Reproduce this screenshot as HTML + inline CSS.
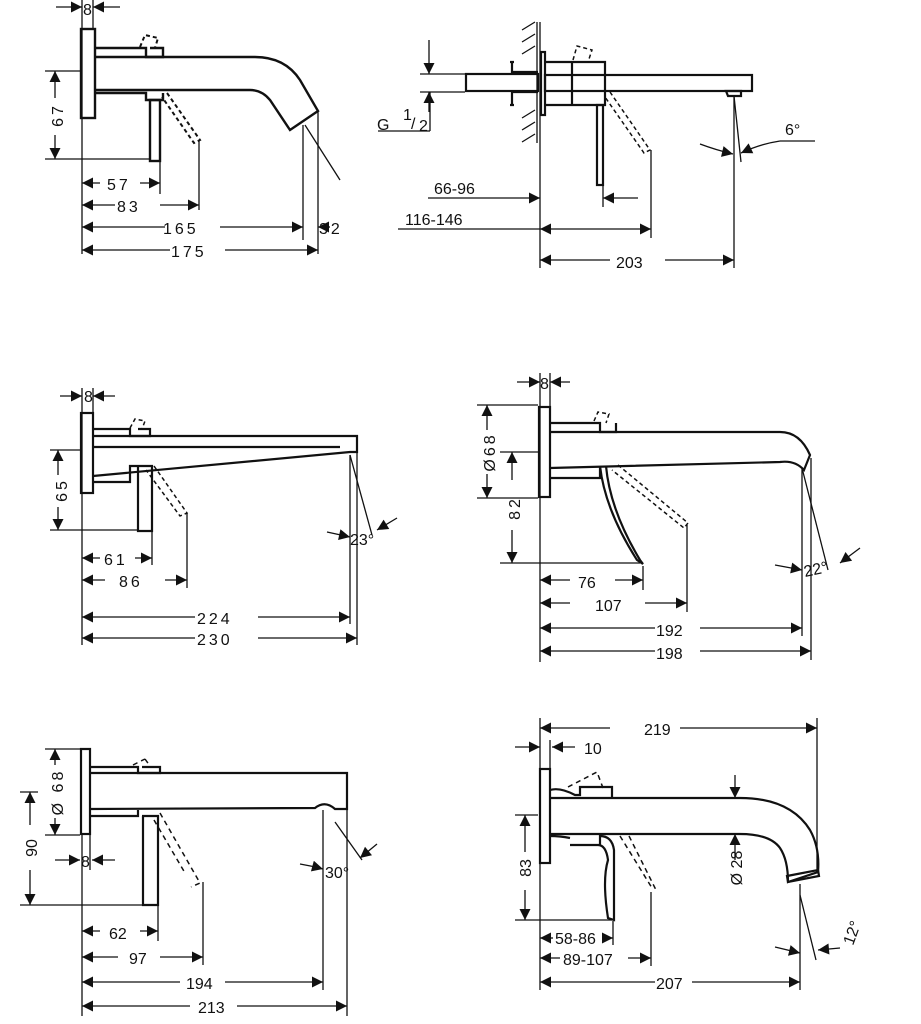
<!DOCTYPE html>
<html><head><meta charset="utf-8"><style>
html,body{margin:0;padding:0;background:#fff;width:921px;height:1024px;overflow:hidden}
svg{display:block}
text{font-family:"Liberation Sans",sans-serif;fill:#111;font-size:16px}
.t{letter-spacing:3px}
</style></head><body>
<svg width="921" height="1024" viewBox="0 0 921 1024" xmlns="http://www.w3.org/2000/svg">
<defs>
<marker id="a" viewBox="0 0 10 10" refX="10" refY="5" markerWidth="13" markerHeight="11" markerUnits="userSpaceOnUse" orient="auto-start-reverse"><path d="M0,0L10,5L0,10z" fill="#111"/></marker>
</defs>
<g stroke="#111" fill="none" stroke-width="1.3">
<!-- ============ Drawing 1 ============ -->
<g stroke-width="2.4">
<rect x="81" y="29" width="14" height="89"/>
<path d="M95,48H146V57H163V48H150"/>
<path d="M95,57H255Q285,57 300,80L318,111L290,130L270,100Q262,90 250,90H95"/>
<path d="M95,93H146V100H163V93"/>
<rect x="150" y="100" width="10" height="61"/>
</g>
<path d="M140,47L145,35L158,38L155,48M167,93L200,140L194,143L162,97" stroke-dasharray="4,3" stroke-width="2"/>
<line x1="82" y1="0" x2="82" y2="254"/><line x1="93" y1="0" x2="93" y2="28"/>
<line x1="56" y1="7" x2="82" y2="7" marker-end="url(#a)"/><line x1="120" y1="7" x2="93" y2="7" marker-end="url(#a)"/>
<line x1="45" y1="71" x2="80" y2="71"/><line x1="45" y1="159" x2="150" y2="159"/>
<line x1="55" y1="98" x2="55" y2="71" marker-end="url(#a)"/><line x1="55" y1="135" x2="55" y2="159" marker-end="url(#a)"/>
<line x1="160" y1="162" x2="160" y2="194"/><line x1="199" y1="140" x2="199" y2="210"/>
<line x1="303" y1="125" x2="303" y2="240"/><line x1="318" y1="112" x2="318" y2="254"/>
<line x1="305" y1="125" x2="340" y2="180"/>
<line x1="100" y1="183" x2="82" y2="183" marker-end="url(#a)"/><line x1="140" y1="183" x2="160" y2="183" marker-end="url(#a)"/>
<line x1="115" y1="205" x2="82" y2="205" marker-end="url(#a)"/><line x1="160" y1="205" x2="199" y2="205" marker-end="url(#a)"/>
<line x1="165" y1="227" x2="82" y2="227" marker-end="url(#a)"/><line x1="220" y1="227" x2="303" y2="227" marker-end="url(#a)"/>
<line x1="170" y1="250" x2="82" y2="250" marker-end="url(#a)"/><line x1="225" y1="250" x2="318" y2="250" marker-end="url(#a)"/>
<line x1="330" y1="227" x2="318" y2="227" marker-end="url(#a)"/>

<!-- ============ Drawing 2 ============ -->
<line x1="540" y1="22" x2="540" y2="268"/>
<line x1="537" y1="22" x2="537" y2="143"/>
<path d="M522,30l13,-8M522,42l13,-8M522,54l13,-8M522,118l13,-8M522,130l13,-8M522,142l13,-8"/>
<g stroke-width="2.2">
<rect x="466" y="74" width="72" height="17"/>
<path d="M512,62V72H538M512,105V92H538M510,62H514M510,105H514"/>
<rect x="541" y="52" width="4" height="63"/>
<path d="M545,62H572V105H545M572,62H605V105H572"/>
<rect x="545" y="75" width="207" height="16"/>
<rect x="597" y="105" width="6" height="80"/>
<path d="M726,91H741V96H728z"/>
</g>
<path d="M573,60L577,46L592,50L588,62M610,92L650,150L644,153L605,97" stroke-dasharray="4,3" stroke-width="1.5"/>
<line x1="420" y1="74" x2="465" y2="74"/><line x1="420" y1="92" x2="465" y2="92"/>
<line x1="429" y1="40" x2="429" y2="74" marker-end="url(#a)"/><line x1="429" y1="112" x2="429" y2="92" marker-end="url(#a)"/>
<line x1="378" y1="131" x2="430" y2="131"/><line x1="430" y1="92" x2="430" y2="131"/>
<line x1="603" y1="185" x2="603" y2="207"/><line x1="651" y1="150" x2="651" y2="238"/>
<line x1="734" y1="96" x2="734" y2="268"/><line x1="734" y1="96" x2="741" y2="162"/>
<line x1="428" y1="198" x2="540" y2="198" marker-end="url(#a)"/>
<line x1="638" y1="198" x2="603" y2="198" marker-end="url(#a)"/>
<line x1="398" y1="229" x2="540" y2="229"/>
<line x1="560" y1="229" x2="540" y2="229" marker-end="url(#a)"/><line x1="560" y1="229" x2="651" y2="229" marker-end="url(#a)"/>
<line x1="610" y1="260" x2="540" y2="260" marker-end="url(#a)"/><line x1="665" y1="260" x2="734" y2="260" marker-end="url(#a)"/>
<path d="M700,144Q716,150 733,154" marker-end="url(#a)"/>
<path d="M780,141Q760,144 741,153" marker-end="url(#a)"/>
<line x1="780" y1="141" x2="815" y2="141"/>

<!-- ============ Drawing 3 ============ -->
<g stroke-width="2.2">
<rect x="81" y="413" width="12" height="80"/>
<path d="M93,429H130V436H150V429H138"/>
<path d="M93,436H357V452H350L93,476"/>
<path d="M93,447H340"/>
<path d="M93,482H130V466H152V531H138V466"/>
</g>
<path d="M130,428L135,419L145,421L142,429M154,466L187,513L180,516L146,470" stroke-dasharray="4,3" stroke-width="1.5"/>
<line x1="82" y1="388" x2="82" y2="645"/><line x1="93" y1="388" x2="93" y2="412"/>
<line x1="60" y1="396" x2="82" y2="396" marker-end="url(#a)"/><line x1="115" y1="396" x2="93" y2="396" marker-end="url(#a)"/>
<line x1="50" y1="450" x2="80" y2="450"/><line x1="50" y1="530" x2="138" y2="530"/>
<line x1="58" y1="475" x2="58" y2="450" marker-end="url(#a)"/><line x1="58" y1="507" x2="58" y2="530" marker-end="url(#a)"/>
<line x1="152" y1="532" x2="152" y2="565"/><line x1="187" y1="513" x2="187" y2="588"/>
<line x1="350" y1="455" x2="350" y2="624"/><line x1="357" y1="452" x2="357" y2="645"/>
<line x1="350" y1="455" x2="372" y2="535"/>
<line x1="100" y1="558" x2="82" y2="558" marker-end="url(#a)"/><line x1="135" y1="558" x2="152" y2="558" marker-end="url(#a)"/>
<line x1="105" y1="580" x2="82" y2="580" marker-end="url(#a)"/><line x1="165" y1="580" x2="187" y2="580" marker-end="url(#a)"/>
<line x1="195" y1="617" x2="82" y2="617" marker-end="url(#a)"/><line x1="258" y1="617" x2="350" y2="617" marker-end="url(#a)"/>
<line x1="195" y1="638" x2="82" y2="638" marker-end="url(#a)"/><line x1="258" y1="638" x2="357" y2="638" marker-end="url(#a)"/>
<line x1="327" y1="532" x2="350" y2="537" marker-end="url(#a)"/><line x1="397" y1="518" x2="377" y2="530" marker-end="url(#a)"/>

<!-- ============ Drawing 4 ============ -->
<g stroke-width="2.2">
<rect x="539" y="407" width="11" height="90"/>
<path d="M550,423H600V432H616V423"/>
<path d="M550,432H780Q800,432 810,455L804,470Q795,460 780,462L550,468"/>
<path d="M550,478H600V466M606,466Q610,510 640,560L643,564L637,560Q605,510 600,466"/>
</g>
<path d="M594,421L598,412L609,414L606,423M618,465L688,523L684,528L612,470" stroke-dasharray="4,3" stroke-width="1.5"/>
<line x1="540" y1="373" x2="540" y2="662"/><line x1="550" y1="373" x2="550" y2="406"/>
<line x1="517" y1="382" x2="540" y2="382" marker-end="url(#a)"/><line x1="570" y1="382" x2="550" y2="382" marker-end="url(#a)"/>
<line x1="477" y1="405" x2="538" y2="405"/><line x1="477" y1="498" x2="538" y2="498"/>
<line x1="487" y1="430" x2="487" y2="405" marker-end="url(#a)"/><line x1="487" y1="474" x2="487" y2="498" marker-end="url(#a)"/>
<line x1="500" y1="452" x2="538" y2="452"/><line x1="500" y1="563" x2="640" y2="563"/>
<line x1="512" y1="480" x2="512" y2="452" marker-end="url(#a)"/><line x1="512" y1="530" x2="512" y2="563" marker-end="url(#a)"/>
<line x1="643" y1="566" x2="643" y2="590"/><line x1="687" y1="525" x2="687" y2="612"/>
<line x1="802" y1="468" x2="802" y2="636"/><line x1="811" y1="458" x2="811" y2="660"/>
<line x1="802" y1="468" x2="828" y2="570"/>
<line x1="570" y1="580" x2="540" y2="580" marker-end="url(#a)"/><line x1="615" y1="580" x2="643" y2="580" marker-end="url(#a)"/>
<line x1="570" y1="603" x2="540" y2="603" marker-end="url(#a)"/><line x1="645" y1="603" x2="687" y2="603" marker-end="url(#a)"/>
<line x1="655" y1="628" x2="540" y2="628" marker-end="url(#a)"/><line x1="700" y1="628" x2="802" y2="628" marker-end="url(#a)"/>
<line x1="655" y1="651" x2="540" y2="651" marker-end="url(#a)"/><line x1="700" y1="651" x2="811" y2="651" marker-end="url(#a)"/>
<line x1="775" y1="565" x2="802" y2="570" marker-end="url(#a)"/><line x1="860" y1="548" x2="840" y2="563" marker-end="url(#a)"/>

<!-- ============ Drawing 5 ============ -->
<g stroke-width="2.2">
<rect x="81" y="749" width="9" height="85"/>
<path d="M90,767H138V773H160V767H142"/>
<path d="M90,773H347V809H335Q325,800 315,808L90,809"/>
<path d="M90,816H138V810M142,816H158V905H143V816"/>
</g>
<path d="M133,765L145,759M145,759L150,766M160,813L200,883L191,887M154,820L185,873" stroke-dasharray="5,4" stroke-width="1.5"/>
<line x1="45" y1="749" x2="80" y2="749"/><line x1="45" y1="835" x2="80" y2="835"/>
<line x1="55" y1="765" x2="55" y2="749" marker-end="url(#a)"/><line x1="55" y1="818" x2="55" y2="835" marker-end="url(#a)"/>
<line x1="20" y1="792" x2="38" y2="792"/><line x1="20" y1="905" x2="143" y2="905"/>
<line x1="30" y1="825" x2="30" y2="792" marker-end="url(#a)"/><line x1="30" y1="870" x2="30" y2="905" marker-end="url(#a)"/>
<line x1="82" y1="835" x2="82" y2="1016"/><line x1="90" y1="835" x2="90" y2="870"/>
<line x1="55" y1="860" x2="80" y2="860" marker-end="url(#a)"/><line x1="115" y1="860" x2="92" y2="860" marker-end="url(#a)"/>
<line x1="158" y1="906" x2="158" y2="941"/><line x1="203" y1="882" x2="203" y2="965"/>
<line x1="323" y1="810" x2="323" y2="990"/><line x1="347" y1="809" x2="347" y2="1016"/>
<line x1="335" y1="822" x2="362" y2="860"/>
<line x1="100" y1="931" x2="82" y2="931" marker-end="url(#a)"/><line x1="140" y1="931" x2="158" y2="931" marker-end="url(#a)"/>
<line x1="118" y1="957" x2="82" y2="957" marker-end="url(#a)"/><line x1="160" y1="957" x2="203" y2="957" marker-end="url(#a)"/>
<line x1="180" y1="982" x2="82" y2="982" marker-end="url(#a)"/><line x1="225" y1="982" x2="323" y2="982" marker-end="url(#a)"/>
<line x1="190" y1="1006" x2="82" y2="1006" marker-end="url(#a)"/><line x1="237" y1="1006" x2="347" y2="1006" marker-end="url(#a)"/>
<path d="M300,864Q312,866 323,869" marker-end="url(#a)"/><line x1="377" y1="844" x2="360" y2="858" marker-end="url(#a)"/>

<!-- ============ Drawing 6 ============ -->
<g stroke-width="2.2">
<rect x="540" y="769" width="10" height="94"/>
<path d="M550,790Q560,787 575,795H580V787H612V798M550,836Q560,836 570,838"/>
<path d="M550,798H740Q790,798 810,830Q820,848 818,872L788,882Q788,860 780,848Q770,834 740,834H550"/>
<path d="M787,876L818,870L819,876L788,882z"/>
<path d="M570,845H600V836Q612,836 614,850L614,920L608,918Q602,880 608,860Q606,845 598,845"/>
</g>
<path d="M568,787L597,772L603,788M620,836L652,888M629,836L656,890" stroke-dasharray="5,4" stroke-width="1.5"/>
<line x1="540" y1="718" x2="540" y2="990"/><line x1="817" y1="718" x2="817" y2="872"/><line x1="550" y1="740" x2="550" y2="768"/>
<line x1="610" y1="728" x2="540" y2="728" marker-end="url(#a)"/><line x1="680" y1="728" x2="817" y2="728" marker-end="url(#a)"/>
<line x1="515" y1="747" x2="540" y2="747" marker-end="url(#a)"/><line x1="575" y1="747" x2="552" y2="747" marker-end="url(#a)"/>
<line x1="735" y1="775" x2="735" y2="798" marker-end="url(#a)"/><line x1="735" y1="860" x2="735" y2="834" marker-end="url(#a)"/>
<line x1="515" y1="815" x2="538" y2="815"/><line x1="515" y1="920" x2="612" y2="920"/>
<line x1="525" y1="852" x2="525" y2="815" marker-end="url(#a)"/><line x1="525" y1="890" x2="525" y2="920" marker-end="url(#a)"/>
<line x1="613" y1="921" x2="613" y2="945"/><line x1="651" y1="892" x2="651" y2="966"/>
<line x1="800" y1="884" x2="800" y2="990"/><line x1="800" y1="895" x2="816" y2="960"/>
<line x1="553" y1="938" x2="540" y2="938" marker-end="url(#a)"/><line x1="603" y1="938" x2="613" y2="938" marker-end="url(#a)"/>
<line x1="560" y1="958" x2="540" y2="958" marker-end="url(#a)"/><line x1="628" y1="958" x2="651" y2="958" marker-end="url(#a)"/>
<line x1="655" y1="982" x2="540" y2="982" marker-end="url(#a)"/><line x1="692" y1="982" x2="800" y2="982" marker-end="url(#a)"/>
<line x1="775" y1="947" x2="800" y2="953" marker-end="url(#a)"/><line x1="840" y1="948" x2="818" y2="950" marker-end="url(#a)"/>
</g>

<!-- text -->
<text x="83" y="15" font-size="17">8</text>
<text x="63" y="115" class="t" transform="rotate(-90 63 115)" text-anchor="middle" font-size="20">67</text>
<text x="107" y="190" class="t" font-size="20">57</text>
<text x="117" y="212" class="t" font-size="20">83</text>
<text x="163" y="234" class="t" font-size="20">165</text>
<text x="171" y="257" class="t" font-size="20">175</text>
<text x="319" y="234" class="t" font-size="20">32</text>

<text x="377" y="130" font-size="23">G</text><text x="403" y="120" font-size="14">1</text><text x="411" y="129" font-size="19">/</text><text x="419" y="131" font-size="14">2</text>
<text x="434" y="194" font-size="22">66-96</text>
<text x="405" y="225" font-size="22">116-146</text>
<text x="616" y="268" font-size="23">203</text>
<text x="785" y="135" font-size="22">6°</text>

<text x="84" y="402" font-size="15">8</text>
<text x="67" y="490" class="t" transform="rotate(-90 67 490)" text-anchor="middle" font-size="18">65</text>
<text x="104" y="565" class="t" font-size="18">61</text>
<text x="119" y="587" class="t" font-size="18">86</text>
<text x="197" y="624" class="t" font-size="18">224</text>
<text x="197" y="645" class="t" font-size="18">230</text>
<text x="350" y="545" font-size="19">23°</text>

<text x="540" y="389" font-size="16">8</text>
<text x="495" y="452" class="t" transform="rotate(-90 495 452)" text-anchor="middle" font-size="19">Ø68</text>
<text x="520" y="508" class="t" transform="rotate(-90 520 508)" text-anchor="middle" font-size="19">82</text>
<text x="578" y="588" font-size="20">76</text>
<text x="595" y="611" font-size="20">107</text>
<text x="656" y="636" font-size="20">192</text>
<text x="656" y="659" font-size="20">198</text>
<text x="805" y="577" transform="rotate(-12 805 577)" font-size="20">22°</text>

<text x="63" y="792" transform="rotate(-90 63 792)" text-anchor="middle" font-size="19" class="t">Ø 68</text>
<text x="37" y="848" transform="rotate(-90 37 848)" text-anchor="middle" font-size="19">90</text>
<text x="81" y="867" font-size="16">8</text>
<text x="109" y="939" font-size="18">62</text>
<text x="129" y="964" font-size="18">97</text>
<text x="186" y="989" font-size="18">194</text>
<text x="198" y="1013" font-size="18">213</text>
<text x="325" y="878" font-size="18">30°</text>

<text x="644" y="735" font-size="17">219</text>
<text x="584" y="754" font-size="17">10</text>
<text x="531" y="868" transform="rotate(-90 531 868)" text-anchor="middle" font-size="17">83</text>
<text x="742" y="868" transform="rotate(-90 742 868)" text-anchor="middle" font-size="17">Ø 28</text>
<text x="555" y="944" font-size="16">58-86</text>
<text x="563" y="965" font-size="16">89-107</text>
<text x="656" y="989" font-size="17">207</text>
<text x="853" y="946" transform="rotate(-70 853 946)" font-size="16">12°</text>
</svg>
</body></html>
